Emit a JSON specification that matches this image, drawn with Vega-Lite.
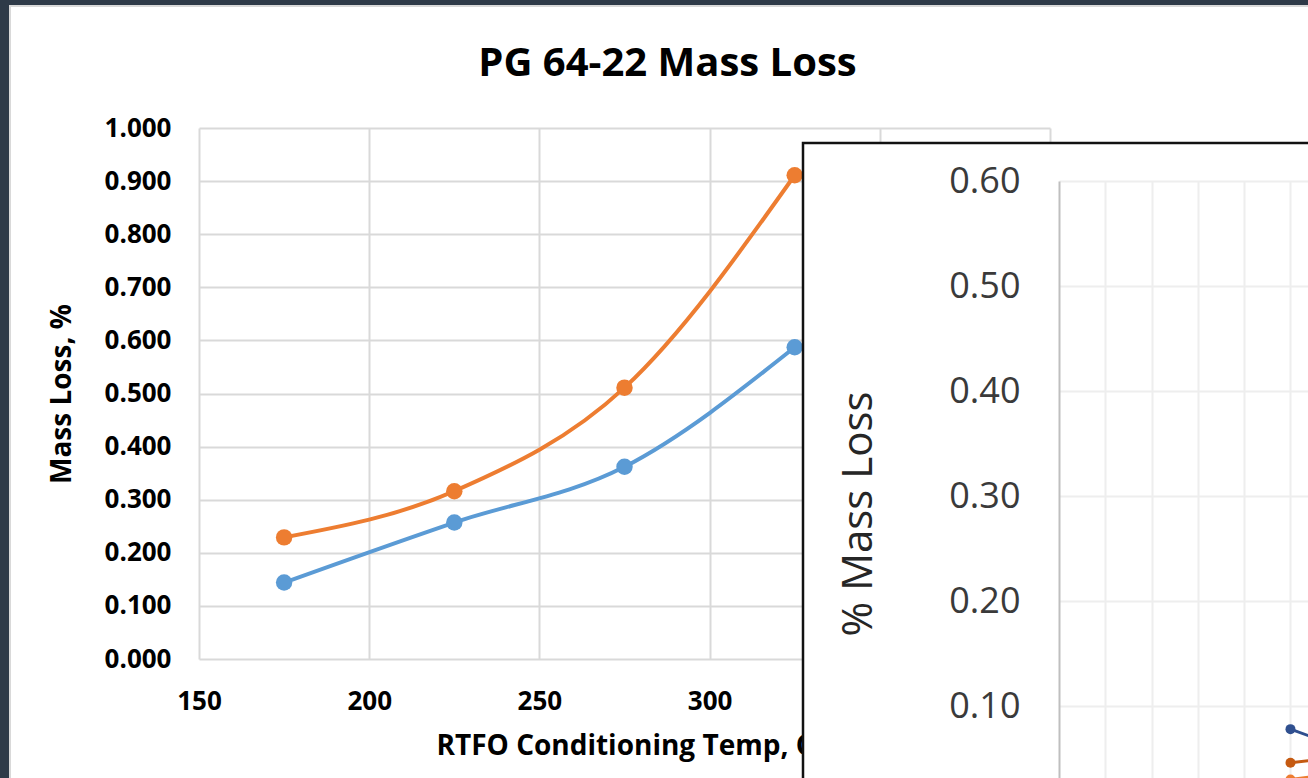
{
  "$schema": "https://vega.github.io/schema/vega-lite/v6.json",
  "background": "#2e3a48",
  "padding": {"left": 9, "top": 5, "right": 0, "bottom": 0},
  "config": {"view": {"stroke": null}, "font": "Open Sans"},
  "columns": 4,
  "spacing": {"row": -653, "column": -1111},
  "align": "none",
  "bounds": "flush",
  "resolve": {"scale": {"color": "independent"}},
  "concat": [
    {
      "width": 1300, "height": 775,
      "view": {"fill": "#ffffff", "stroke": "#d9d9d9", "strokeWidth": 2},
      "data": {"values": []},
      "mark": {"type": "point", "opacity": 0},
      "encoding": {}
    },
    {"width": 1, "height": 775, "data": {"values": []}, "mark": {"type": "point", "opacity": 0}, "encoding": {}},
    {"width": 1, "height": 775, "data": {"values": []}, "mark": {"type": "point", "opacity": 0}, "encoding": {}},
    {"width": 1, "height": 775, "data": {"values": []}, "mark": {"type": "point", "opacity": 0}, "encoding": {}},

    {"width": 1300, "height": 1, "data": {"values": []}, "mark": {"type": "point", "opacity": 0}, "encoding": {}},
    {
      "width": 851, "height": 531,
      "title": {"text": "PG 64-22 Mass Loss", "font": "Open Sans", "fontSize": 40, "fontWeight": "bold", "color": "#000000", "anchor": "middle", "frame": "group", "dx": 43, "offset": 31},
      "data": {"values": [
        {"temp": 175, "loss": 0.144, "series": "Series 1"},
        {"temp": 225, "loss": 0.257, "series": "Series 1"},
        {"temp": 275, "loss": 0.362, "series": "Series 1"},
        {"temp": 325, "loss": 0.587, "series": "Series 1"},
        {"temp": 175, "loss": 0.229, "series": "Series 2"},
        {"temp": 225, "loss": 0.316, "series": "Series 2"},
        {"temp": 275, "loss": 0.511, "series": "Series 2"},
        {"temp": 325, "loss": 0.911, "series": "Series 2"}
      ]},
      "encoding": {
        "x": {"field": "temp", "type": "quantitative",
              "scale": {"domain": [150, 400], "nice": false, "zero": false},
              "axis": {"title": "RTFO Conditioning Temp, C", "values": [150, 200, 250, 300, 350, 400],
                       "grid": true, "gridColor": "#d9d9d9", "gridWidth": 2, "domain": false, "ticks": false,
                       "labelFont": "Open Sans", "labelFontSize": 26, "labelFontWeight": "bold", "labelColor": "#000000",
                       "labelPadding": 29, "labelFlush": false,
                       "titleFont": "Open Sans", "titleFontSize": 28, "titleFontWeight": "bold", "titleColor": "#000000", "titlePadding": 18}},
        "y": {"field": "loss", "type": "quantitative",
              "scale": {"domain": [0, 1], "nice": false, "zero": false},
              "axis": {"title": "Mass Loss, %", "values": [0, 0.1, 0.2, 0.3, 0.4, 0.5, 0.6, 0.7, 0.8, 0.9, 1.0], "format": ".3f",
                       "grid": true, "gridColor": "#d9d9d9", "gridWidth": 2, "domain": false, "ticks": false,
                       "labelFont": "Open Sans", "labelFontSize": 26, "labelFontWeight": "bold", "labelColor": "#000000",
                       "labelPadding": 28, "labelFlush": false,
                       "titleFont": "Open Sans", "titleFontSize": 28, "titleFontWeight": "bold", "titleColor": "#000000", "titlePadding": 28}},
        "color": {"field": "series", "type": "nominal",
                  "scale": {"domain": ["Series 1", "Series 2"], "range": ["#5b9bd5", "#ed7d31"]}, "legend": null}
      },
      "layer": [
        {"mark": {"type": "line", "interpolate": "monotone", "strokeWidth": 4}},
        {"mark": {"type": "point", "filled": true, "size": 270, "opacity": 1}}
      ]
    },
    {"width": 1, "height": 668, "data": {"values": []}, "mark": {"type": "point", "opacity": 0}, "encoding": {}},
    {"width": 1, "height": 668, "data": {"values": []}, "mark": {"type": "point", "opacity": 0}, "encoding": {}},

    {"width": 1300, "height": 1, "data": {"values": []}, "mark": {"type": "point", "opacity": 0}, "encoding": {}},
    {"width": 1715, "height": 1, "data": {"values": []}, "mark": {"type": "point", "opacity": 0}, "encoding": {}},
    {
      "width": 540, "height": 691,
      "view": {"fill": "#ffffff", "stroke": "#111111", "strokeWidth": 2.5},
      "data": {"values": []},
      "mark": {"type": "point", "opacity": 0},
      "encoding": {}
    },
    {"width": 1, "height": 691, "data": {"values": []}, "mark": {"type": "point", "opacity": 0}, "encoding": {}},

    {"width": 1300, "height": 1, "data": {"values": []}, "mark": {"type": "point", "opacity": 0}, "encoding": {}},
    {"width": 1715, "height": 1, "data": {"values": []}, "mark": {"type": "point", "opacity": 0}, "encoding": {}},
    {"width": 1367, "height": 1, "data": {"values": []}, "mark": {"type": "point", "opacity": 0}, "encoding": {}},
    {
      "width": 300, "height": 665,
      "data": {"values": [
        {"run": 5, "loss": 0.078, "series": "A"},
        {"run": 6, "loss": 0.062, "series": "A"},
        {"run": 5, "loss": 0.046, "series": "B"},
        {"run": 6, "loss": 0.051, "series": "B"},
        {"run": 5, "loss": 0.030, "series": "C"},
        {"run": 6, "loss": 0.036, "series": "C"}
      ]},
      "encoding": {
        "x": {"field": "run", "type": "quantitative",
              "scale": {"domain": [0, 6.48], "nice": false, "zero": false},
              "axis": {"values": [1, 2, 3, 4, 5, 6], "grid": true, "gridColor": "#eeeeee", "gridWidth": 2,
                       "labels": false, "ticks": false, "domain": false, "title": null}},
        "y": {"field": "loss", "type": "quantitative",
              "scale": {"domain": [-0.0333, 0.6], "nice": false, "zero": false},
              "axis": {"title": "% Mass Loss", "values": [0.1, 0.2, 0.3, 0.4, 0.5, 0.6], "format": ".2f",
                       "grid": true, "gridColor": "#eeeeee", "gridWidth": 2,
                       "domain": true, "domainColor": "#bfbfbf", "domainWidth": 2, "ticks": false,
                       "labelFont": "Open Sans", "labelFontSize": 36, "labelFontWeight": "normal", "labelColor": "#3a3a3a",
                       "labelPadding": 39, "labelFlush": false, "labelOverlap": false,
                       "titleFont": "Open Sans", "titleFontSize": 42, "titleFontWeight": "normal", "titleColor": "#262626", "titlePadding": 68}},
        "color": {"field": "series", "type": "nominal", "scale": {"domain": ["A", "B", "C"], "range": ["#2f4f8f", "#c55a11", "#ed7d31"]}, "legend": null}
      },
      "layer": [
        {"mark": {"type": "line", "strokeWidth": 3}},
        {"mark": {"type": "point", "filled": true, "size": 100, "opacity": 1}}
      ]
    }
  ]
}
